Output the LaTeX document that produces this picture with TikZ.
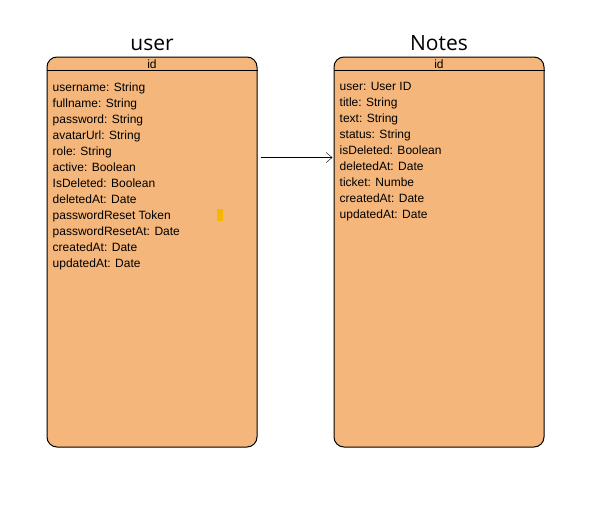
\documentclass[tikz,border=0pt]{standalone}
\usepackage{fontspec}
\setmainfont{Liberation Sans}
\newfontfamily\titlefont{Open Sans}
\usetikzlibrary{arrows.meta}
\usetikzlibrary{positioning}
\definecolor{entityfill}{RGB}{244,182,122}
\definecolor{markyellow}{RGB}{245,184,0}
\tikzstyle{entity} = [rectangle, draw, fill=entityfill, rounded corners=10pt,
    minimum width=210pt, minimum height=390pt, line width=1pt]
\tikzstyle{title} = [font=\titlefont\fontsize{21}{24}\selectfont, inner sep=0pt]
\tikzstyle{key} = [font=\fontsize{12}{14}\selectfont, inner sep=0pt]
\tikzstyle{fields} = [font=\fontsize{12}{16}\selectfont, align=left,
    anchor=north west, inner sep=0pt]
\tikzstyle{line} = [draw, -{Straight Barb[length=6pt,width=10pt]}]
\tikzstyle{cursorbox} = [fill=markyellow, inner sep=0pt, minimum width=6pt, minimum height=12pt]

\begin{document}
\begin{tikzpicture}[x=1pt, y=-1pt]
  \useasboundingbox (0,0) rectangle (605,507);
  % Place nodes
  \node [entity] (user) at (152,252) {};
  \node [entity, right of=user, node distance=287pt] (notes) {};

  \node [title, anchor=base] (usertitle) at ([yshift=6pt]user.north) {user};
  \node [title, anchor=base] (notestitle) at ([yshift=6pt]notes.north) {Notes};

  % key row
  \draw [line width=1pt] ([yshift=-13.5pt]user.north west) -- ([yshift=-13.5pt]user.north east);
  \draw [line width=1pt] ([yshift=-13.5pt]notes.north west) -- ([yshift=-13.5pt]notes.north east);
  \node [key] (userkey) at ([yshift=-7.5pt]user.north) {id};
  \node [key] (noteskey) at ([yshift=-7.5pt]notes.north) {id};

  % attributes
  \node [fields] (userfields) at ([xshift=6pt, yshift=-26pt]user.north west) {
    username: String \\
    fullname: String \\
    password: String \\
    avatarUrl: String \\
    role: String \\
    active: Boolean \\
    IsDeleted: Boolean \\
    deletedAt: Date \\
    passwordReset Token \\
    passwordResetAt: Date \\
    createdAt: Date \\
    updatedAt: Date};
  \node [fields] (notesfields) at ([xshift=6pt, yshift=-26pt]notes.north west) {
    user: User ID \\
    title: String \\
    text: String \\
    status: String \\
    isDeleted: Boolean \\
    deletedAt: Date \\
    ticket: Numbe \\
    createdAt: Date \\
    updatedAt: Date};

  \node [cursorbox] (cursor) at (220,215) {};

  % relation
  \coordinate (from) at ([xshift=3pt, yshift=-101pt]user.north east);
  \coordinate (to) at ([xshift=-1pt, yshift=-101pt]notes.north west);
  \path [line] (from) -- (to);
\end{tikzpicture}
\end{document}
